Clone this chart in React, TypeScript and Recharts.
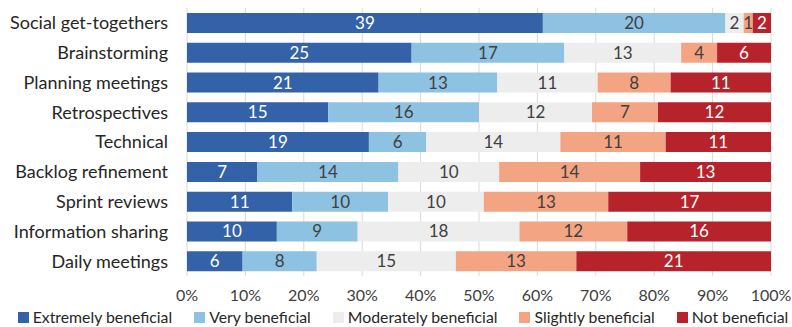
import React from "react";
import { BarChart, Bar, XAxis, YAxis, CartesianGrid, Legend, LabelList } from "recharts";

const categories = [
  "Social get-togethers",
  "Brainstorming",
  "Planning meetings",
  "Retrospectives",
  "Technical",
  "Backlog refinement",
  "Sprint reviews",
  "Information sharing",
  "Daily meetings",
];
const extremely = [39, 25, 21, 15, 19, 7, 11, 10, 6];
const very = [20, 17, 13, 16, 6, 14, 10, 9, 8];
const moderately = [2, 13, 11, 12, 14, 10, 10, 18, 15];
const slightly = [1, 4, 8, 7, 11, 14, 13, 12, 13];
const notBen = [2, 6, 11, 12, 11, 13, 17, 16, 21];
const xTicks = [0, 0.1, 0.2, 0.3, 0.4, 0.5, 0.6, 0.7, 0.8, 0.9, 1];

const series = [
  { key: "e", name: "Extremely beneficial", values: extremely, color: "#3462A8", text: "#FFFFFF" },
  { key: "v", name: "Very beneficial", values: very, color: "#8EC2E3", text: "#404040" },
  { key: "m", name: "Moderately beneficial", values: moderately, color: "#EDEDED", text: "#404040" },
  { key: "s", name: "Slightly beneficial", values: slightly, color: "#F3A482", text: "#404040" },
  { key: "n", name: "Not beneficial", values: notBen, color: "#B7232B", text: "#FFFFFF" },
];

const data = categories.map((c, i) => {
  const row: any = { name: c };
  series.forEach((s) => (row[s.key] = s.values[i]));
  return row;
});

const FONT = "Lato, 'Open Sans', sans-serif";

const LegendContent = () => (
  <div
    style={{
      display: "flex",
      justifyContent: "center",
      gap: 22,
      fontFamily: FONT,
      fontSize: 15.8,
      color: "#262626",
      lineHeight: "20px",
      whiteSpace: "nowrap",
      width: 792,
      paddingLeft: 14,
      boxSizing: "border-box",
    }}
  >
    {series.map((s) => (
      <div key={s.key} style={{ display: "flex", alignItems: "center", whiteSpace: "nowrap" }}>
        <span style={{ display: "inline-block", width: 11, height: 11, background: s.color, marginRight: 4 }} />
        <span>{s.name}</span>
      </div>
    ))}
  </div>
);

export default function App() {
  return (
    <div style={{ position: "absolute", left: 0, top: 0, width: 792, height: 327, background: "#fff", fontFamily: FONT }}>
      <BarChart
        width={792}
        height={327}
        data={data}
        layout="vertical"
        stackOffset="expand"
        margin={{ top: 8, right: 21, bottom: 0, left: 0 }}
        barSize={20}
      >
        <CartesianGrid horizontal={false} stroke="#D9D9D9" />
        <XAxis
          type="number"
          domain={[0, 1]}
          ticks={xTicks}
          tickFormatter={(v: number) => `${Math.round(v * 100)}%`}
          axisLine={false}
          tickLine={false}
          tickSize={0}
          tickMargin={14}
          height={31}
          tick={{ fill: "#404040", fontSize: 16, fontFamily: FONT }}
          interval={0}
        />
        <YAxis
          type="category"
          dataKey="name"
          width={187}
          axisLine={false}
          tickLine={false}
          tickSize={0}
          tickMargin={19}
          tick={{ fill: "#262626", fontSize: 18, fontFamily: FONT }}
          interval={0}
        />
        <Legend
          verticalAlign="bottom"
          height={20}
          width={792}
          wrapperStyle={{ left: 0, width: 792 }}
          content={<LegendContent />}
        />
        {series.map((s) => (
          <Bar key={s.key} dataKey={s.key} name={s.name} stackId="a" fill={s.color} isAnimationActive={false}>
            <LabelList dataKey={s.key} position="center" fill={s.text} fontSize={17} fontFamily={FONT} />
          </Bar>
        ))}
      </BarChart>
    </div>
  );
}
